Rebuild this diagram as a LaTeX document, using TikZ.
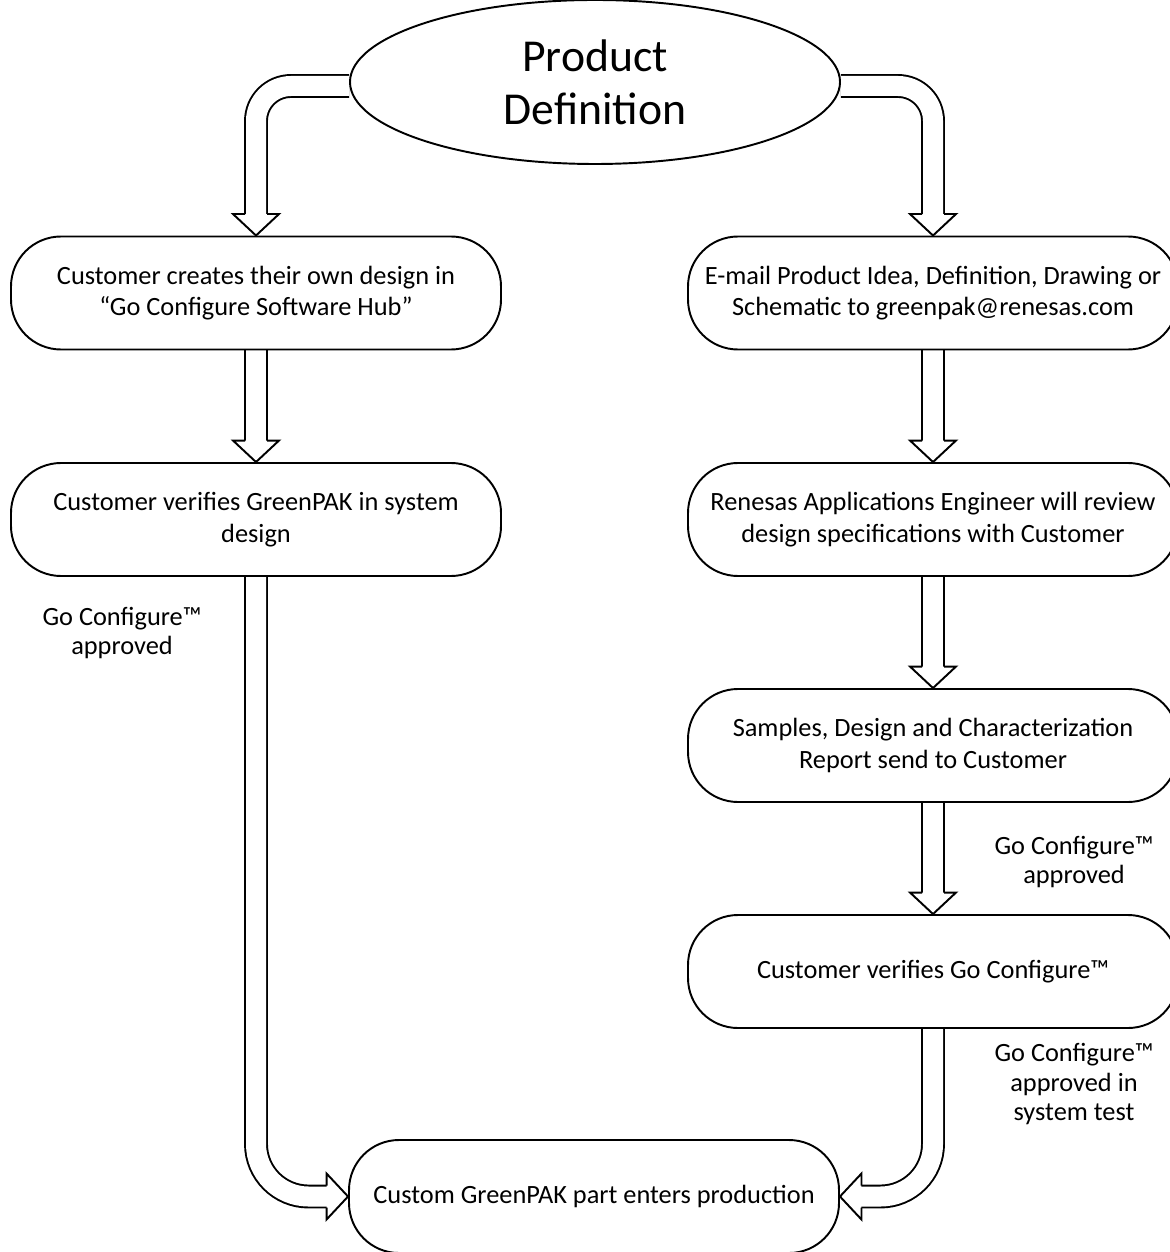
\documentclass[tikz,border=0pt]{standalone}
\usepackage{fontspec}
\setmainfont{Carlito}
\usetikzlibrary{shapes,positioning,calc,backgrounds}

\begin{document}
\begin{tikzpicture}[
    stepbox/.style={draw, line width=1.1pt, fill=white, rounded corners=1cm,
        minimum width=9.8cm, minimum height=2.26cm, inner sep=0pt, align=center,
        font=\fontsize{15}{18}\selectfont},
    note/.style={align=center, font=\fontsize{15}{17}\selectfont},
    band/.style={line width=1.1pt, double=white, double distance=0.4cm},
    hollowhead/.pic={
        \filldraw[fill=white, line width=1.1pt]
            (-0.22,0.43) -- (-0.46,0.43) -- (0,0) -- (0.46,0.43) -- (0.22,0.43);
    }
]
    \useasboundingbox (0,0) rectangle (23.38,-25.04);

    % start
    \node[draw, ellipse, line width=1.1pt, fill=white, minimum width=9.8cm, minimum height=3.28cm,
        inner sep=0pt, align=center, font=\fontsize{26}{30}\selectfont] (def) at (11.9,-1.64) {Product\\Definition};

    % left column
    \node[stepbox] (l1) at (5.12,-5.86) {Customer creates their own design in\\“Go Configure Software Hub”};
    \node[stepbox] (l2) at (5.12,-10.39) {Customer verifies GreenPAK in system\\design};

    % right column
    \node[stepbox] (r1) at (18.66,-5.86) {E-mail Product Idea, Definition, Drawing or\\Schematic to greenpak@renesas.com};
    \node[stepbox] (r2) at (18.66,-10.39) {Renesas Applications Engineer will review\\design specifications with Customer};
    \node[stepbox] (r3) at (18.66,-14.91) {Samples, Design and Characterization\\Report send to Customer};
    \node[stepbox] (r4) at (18.66,-19.43) {Customer verifies Go Configure™};

    % end
    \node[stepbox] (prod) at (11.88,-23.93) {Custom GreenPAK part enters production};

    % labels
    \node[note] (okleft) at (2.44,-12.66) {Go Configure™\\approved};
    \node[note] (okright) at (21.48,-17.24) {Go Configure™\\approved};
    \node[note] (oktest) at (21.48,-21.68) {Go Configure™\\approved in\\system test};

    \begin{scope}[on background layer]
        \draw[band, rounded corners=0.7cm] ([yshift=-0.08cm]def.west) -| ([yshift=0.41cm]l1.north);
        \draw[band, rounded corners=0.7cm] ([yshift=-0.08cm]def.east) -| ([yshift=0.41cm]r1.north);
        \foreach \a/\b in {l1/l2, r1/r2, r2/r3, r3/r4}
            \draw[band] (\a.south) -- ([yshift=0.41cm]\b.north);
        \draw[band, rounded corners=1.05cm] (l2.south) |- ([xshift=-0.41cm]prod.west);
        \draw[band, rounded corners=1.05cm] (r4.south) |- ([xshift=0.41cm]prod.east);

        \foreach \b in {l1, l2, r1, r2, r3, r4}
            \pic at (\b.north) {hollowhead};
        \pic[rotate=90] at (prod.west) {hollowhead};
        \pic[rotate=-90] at (prod.east) {hollowhead};
    \end{scope}
\end{tikzpicture}
\end{document}
